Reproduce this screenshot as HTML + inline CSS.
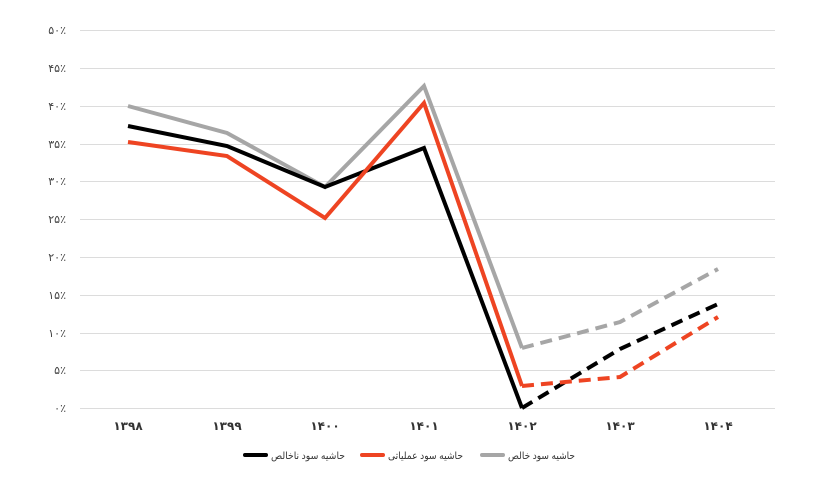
<!DOCTYPE html>
<html><head><meta charset="utf-8"><style>
html,body{margin:0;padding:0;background:#fff;}
svg{display:block;font-family:"Liberation Sans","DejaVu Sans",sans-serif;}
</style></head><body>
<svg width="839" height="477" viewBox="0 0 839 477" xmlns="http://www.w3.org/2000/svg">
<g stroke="#dcdcdc" stroke-width="1">
<line x1="80" y1="30.5" x2="775" y2="30.5"/>
<line x1="80" y1="68.5" x2="775" y2="68.5"/>
<line x1="80" y1="106.5" x2="775" y2="106.5"/>
<line x1="80" y1="144.5" x2="775" y2="144.5"/>
<line x1="80" y1="181.5" x2="775" y2="181.5"/>
<line x1="80" y1="219.5" x2="775" y2="219.5"/>
<line x1="80" y1="257.5" x2="775" y2="257.5"/>
<line x1="80" y1="295.5" x2="775" y2="295.5"/>
<line x1="80" y1="333.5" x2="775" y2="333.5"/>
<line x1="80" y1="370.5" x2="775" y2="370.5"/>
<line x1="80" y1="408.5" x2="775" y2="408.5"/>
</g>
<g font-size="11" fill="#444" text-anchor="end">
<text x="66" y="34">۵۰٪</text>
<text x="66" y="72">۴۵٪</text>
<text x="66" y="110">۴۰٪</text>
<text x="66" y="148">۳۵٪</text>
<text x="66" y="185">۳۰٪</text>
<text x="66" y="223">۲۵٪</text>
<text x="66" y="261">۲۰٪</text>
<text x="66" y="299">۱۵٪</text>
<text x="66" y="337">۱۰٪</text>
<text x="66" y="374">۵٪</text>
<text x="66" y="412">۰٪</text>
</g>
<g font-size="12" fill="#333" text-anchor="middle" font-weight="bold">
<text x="128" y="430">۱۳۹۸</text>
<text x="227" y="430">۱۳۹۹</text>
<text x="325" y="430">۱۴۰۰</text>
<text x="424" y="430">۱۴۰۱</text>
<text x="522" y="430">۱۴۰۲</text>
<text x="620" y="430">۱۴۰۳</text>
<text x="718" y="430">۱۴۰۴</text>
</g>
<g fill="none" stroke-width="4" stroke-linejoin="miter">
<polyline stroke="#a6a6a6" points="128,106 227,133 325,187 424,86 522,348"/>
<polyline stroke="#a6a6a6" stroke-dasharray="12,7" points="522,348 620,322 718,269"/>
<polyline stroke="#000" points="128,126 227,146 325,187 424,148 522,408"/>
<polyline stroke="#000" stroke-dasharray="12,7" points="522,408 620,349 718,304"/>
<polyline stroke="#ee4422" points="128,142 227,156 325,218 424,103 522,386"/>
<polyline stroke="#ee4422" stroke-dasharray="12,7" points="522,386 620,377 718,317"/>
</g>
<g stroke-width="4" stroke-linecap="round">
<line x1="245" y1="455" x2="266" y2="455" stroke="#000"/>
<line x1="362" y1="455" x2="383" y2="455" stroke="#ee4422"/>
<line x1="482" y1="455" x2="503" y2="455" stroke="#a6a6a6"/>
</g>
<g font-size="10" fill="#333">
<text x="271" y="459" textLength="74" lengthAdjust="spacingAndGlyphs">حاشیه سود ناخالص</text>
<text x="388" y="459" textLength="75" lengthAdjust="spacingAndGlyphs">حاشیه سود عملیاتی</text>
<text x="508" y="459" textLength="67" lengthAdjust="spacingAndGlyphs">حاشیه سود خالص</text>
</g>
</svg>
</body></html>
